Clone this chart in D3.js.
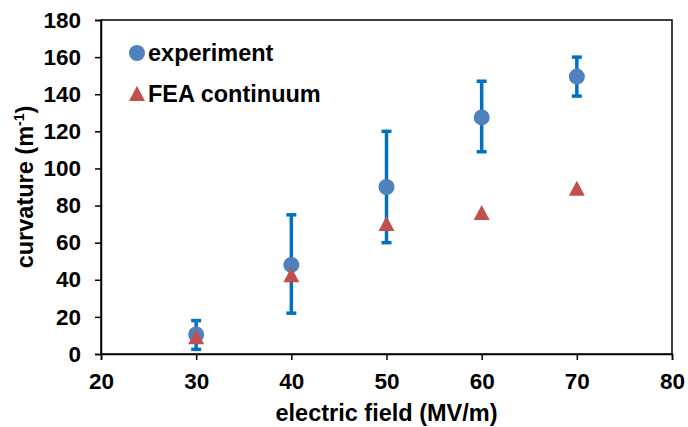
<!DOCTYPE html>
<html>
<head>
<meta charset="utf-8">
<script src="https://cdn.jsdelivr.net/npm/d3@7"></script>
<style>
  body { margin: 0; background: #fff; }
  svg { display: block; font-family: "Liberation Sans", Arial, sans-serif; font-weight: bold; }
</style>
</head>
<body>
<svg></svg>
<script>
// data
const fields = [30, 40, 50, 60, 70];
const expMean = [10.5, 48, 90, 127.5, 149.5];
const expLow = [2.5, 22, 60, 109, 139];
const expHigh = [18, 75, 120, 147, 160];
const feaValues = [9, 42.5, 70, 76, 89];
const xTicks = [20, 30, 40, 50, 60, 70, 80];
const yTicks = [0, 20, 40, 60, 80, 100, 120, 140, 160, 180];

const expColor = "#4f81bd", feaColor = "#c0504d", errColor = "#0070c0";

const svgWidth = 688, svgHeight = 427;
const margin = { top: 20, right: 16, bottom: 73, left: 101 };
const width = svgWidth - margin.left - margin.right;
const height = svgHeight - margin.top - margin.bottom;

const svg = d3.select("svg")
    .attr("width", svgWidth)
    .attr("height", svgHeight);

const g = svg.append("g")
    .attr("transform", "translate(" + margin.left + "," + margin.top + ")");

const x = d3.scaleLinear().domain([20, 80]).range([0, width]);
const y = d3.scaleLinear().domain([0, 180]).range([height, 0]);

// frame
g.append("rect")
    .attr("width", width)
    .attr("height", height)
    .attr("fill", "none")
    .attr("stroke", "#000")
    .attr("stroke-width", 1.5);

const xAxis = g.append("g")
    .attr("transform", "translate(0," + height + ")")
    .call(d3.axisBottom(x).tickValues(xTicks).tickSize(6).tickPadding(13));

const yAxis = g.append("g")
    .call(d3.axisLeft(y).tickValues(yTicks).tickSize(6).tickPadding(14));

[xAxis, yAxis].forEach(a => {
    a.select(".domain").attr("stroke-width", 1.5);
    a.selectAll(".tick line").attr("stroke-width", 1.5);
    a.selectAll(".tick text")
        .attr("font-size", 22.5)
        .attr("font-family", "Liberation Sans, Arial, sans-serif")
        .attr("font-weight", "bold")
        .attr("fill", "#000");
});

// error bars
const pts = fields.map((f, i) => ({ f, m: expMean[i], lo: expLow[i], hi: expHigh[i], fea: feaValues[i] }));

const err = g.append("g").attr("stroke", errColor).attr("stroke-width", 3.5);
err.selectAll("line.v").data(pts).join("line")
    .attr("x1", d => x(d.f)).attr("x2", d => x(d.f))
    .attr("y1", d => y(d.lo)).attr("y2", d => y(d.hi));
err.selectAll("line.lo").data(pts).join("line")
    .attr("x1", d => x(d.f) - 5).attr("x2", d => x(d.f) + 5)
    .attr("y1", d => y(d.lo)).attr("y2", d => y(d.lo));
err.selectAll("line.hi").data(pts).join("line")
    .attr("x1", d => x(d.f) - 5).attr("x2", d => x(d.f) + 5)
    .attr("y1", d => y(d.hi)).attr("y2", d => y(d.hi));

// experiment points
g.selectAll("circle.exp").data(pts).join("circle")
    .attr("cx", d => x(d.f))
    .attr("cy", d => y(d.m))
    .attr("r", 8)
    .attr("fill", expColor);

// FEA points: triangle ~16 wide, 15 tall
const tri = "M0,-8L8,7L-8,7Z";
g.selectAll("path.fea").data(pts).join("path")
    .attr("transform", d => "translate(" + x(d.f) + "," + y(d.fea) + ")")
    .attr("d", tri)
    .attr("fill", feaColor);

// legend
const legend = svg.append("g").attr("font-size", 23.5);
legend.append("circle")
    .attr("cx", 137).attr("cy", 53).attr("r", 8).attr("fill", expColor);
legend.append("text")
    .attr("x", 148).attr("y", 61).text("experiment");
legend.append("path")
    .attr("transform", "translate(137,94)")
    .attr("d", tri)
    .attr("fill", feaColor);
legend.append("text")
    .attr("x", 148).attr("y", 102).text("FEA continuum");

// axis titles
svg.append("text")
    .attr("x", margin.left + width / 2)
    .attr("y", 421)
    .attr("text-anchor", "middle")
    .attr("font-size", 23.5)
    .text("electric field (MV/m)");

const yt = svg.append("text")
    .attr("transform", "translate(33," + (margin.top + height / 2) + ") rotate(-90)")
    .attr("text-anchor", "middle")
    .attr("font-size", 23.5)
    .text("curvature (m");
yt.append("tspan").attr("font-size", 14).attr("dy", -9).text("-1");
yt.append("tspan").attr("dy", 9).text(")");
</script>
</body>
</html>
